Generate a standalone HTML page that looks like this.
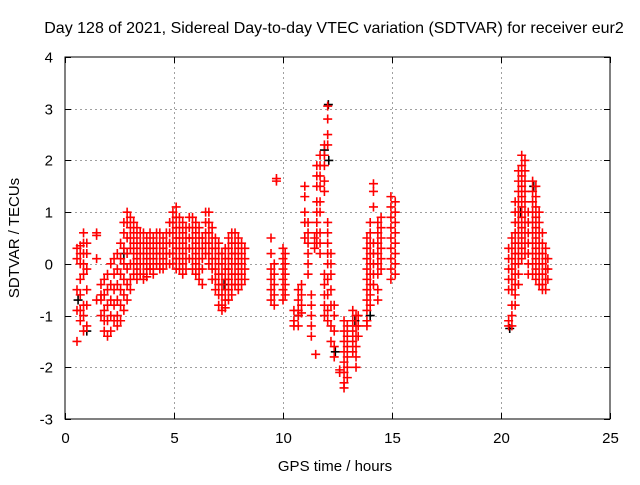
<!DOCTYPE html>
<html><head><meta charset="utf-8"><style>
body{margin:0;background:#fff;}
svg text{font-family:"Liberation Sans",sans-serif;font-size:15px;fill:#000;}
</style></head><body>
<svg id="chart" width="640" height="480" viewBox="0 0 640 480" xmlns="http://www.w3.org/2000/svg">
<rect width="640" height="480" fill="#fff"/>
<text x="334" y="33" text-anchor="middle" style="font-size:16px">Day 128 of 2021, Sidereal Day-to-day VTEC variation (SDTVAR) for receiver eur2</text>
<g id="grid"></g>
<g id="ticks"></g>
<g id="black-series"></g>
<g id="red-series"></g>
<rect x="65" y="57" width="545" height="362" fill="none" stroke="#000" stroke-width="1"/>
<text x="335" y="471" text-anchor="middle">GPS time / hours</text>
<text x="0" y="0" text-anchor="middle" transform="translate(19,238) rotate(-90)">SDTVAR / TECUs</text>
</svg>
<script>
const xTicks=[0,5,10,15,20,25];
const yTicks=[-3,-2,-1,0,1,2,3,4];
const hours=[0.55,0.7,0.85,1.0,1.45,1.65,1.8,1.95,2.1,2.25,2.4,2.55,2.7,2.85,3.0,3.15,3.3,3.45,3.6,3.75,3.9,4.05,4.2,4.35,4.5,4.65,4.8,4.95,5.1,5.25,5.4,5.55,5.7,5.85,6.0,6.15,6.3,6.45,6.6,6.75,6.9,7.05,7.2,7.35,7.5,7.65,7.8,7.95,8.1,8.25,9.45,9.6,9.7,10.0,10.1,10.5,10.7,10.85,11.0,11.15,11.3,11.45,11.5,11.55,11.7,11.9,12.05,12.2,12.35,12.6,12.8,12.95,13.2,13.35,13.45,13.85,14.0,14.15,14.35,14.5,14.95,15.15,20.35,20.5,20.65,20.8,20.95,21.1,21.25,21.45,21.6,21.75,21.9,22.05,22.15];
const values=[
[0.3,0.1,-0.5,-0.9,-1.5],[0.35,0.2,0.0,-0.3,-0.6,-0.9,-1.1],[0.6,0.4,0.2,0.0,-0.2,-0.8,-1.0,-1.3],[0.4,0.2,-0.1,-0.5,-0.8,-1.2],
[0.6,0.55,0.1,-0.7],[-0.6,-0.7,-0.4,-1.0],[-0.3,-0.6,-0.9,-1.1,-1.3],[-0.2,-0.5,-0.8,-1.1,-1.4],[0.0,-0.4,-0.7,-1.0,-1.3],
[0.1,-0.2,-0.5,-0.8,-1.1],[0.2,-0.1,-0.4,-0.7,-1.0,-1.2],[0.4,0.1,-0.2,-0.5,-0.8,-1.1],[0.8,0.6,0.3,0.0,-0.3,-0.6,-0.9],
[1.0,0.8,0.5,0.2,-0.1,-0.4,-0.7],[0.9,0.7,0.5,0.3,0.0,-0.3,-0.5],[0.8,0.6,0.4,0.2,0.0,-0.2],[0.7,0.5,0.3,0.1,-0.1,-0.3],
[0.6,0.4,0.2,0.0,-0.2],[0.6,0.4,0.2,0.0,-0.2,-0.3],[0.5,0.3,0.1,-0.1,-0.25],[0.6,0.4,0.2,0.0,-0.1],[0.5,0.3,0.1,-0.1,-0.2],
[0.6,0.4,0.2,0.0],[0.6,0.4,0.2,0.0,-0.1],[0.5,0.3,0.1,-0.1],[0.6,0.4,0.2,0.0],[0.8,0.6,0.4,0.2,0.0],[1.0,0.8,0.6,0.4,0.2,0.0],
[1.1,0.9,0.7,0.5,0.3,0.1,-0.1],[0.9,0.7,0.5,0.3,0.1,-0.1],[0.8,0.6,0.4,0.2,0.0,-0.2],[0.7,0.5,0.3,0.1,-0.1],[0.9,0.7,0.5,0.3,0.1],
[0.9,0.7,0.5,0.3,0.1,-0.1],[0.8,0.6,0.4,0.2,0.0,-0.2],[0.7,0.5,0.3,0.1,-0.1,-0.3],[0.5,0.3,0.1,-0.1,-0.4],[1.0,0.8,0.6,0.4,0.2],
[1.0,0.8,0.6,0.4,0.2,0.0],[0.7,0.5,0.3,0.1,-0.1,-0.3],[0.5,0.3,0.1,-0.1,-0.3,-0.5],[0.4,0.2,0.0,-0.2,-0.4,-0.6,-0.8],
[0.2,0.0,-0.2,-0.4,-0.6,-0.8,-0.9],[0.3,0.1,-0.1,-0.3,-0.5,-0.7,-0.85],[0.5,0.3,0.1,-0.1,-0.3,-0.5,-0.7],[0.6,0.4,0.2,0.0,-0.2,-0.4,-0.6],
[0.6,0.4,0.2,0.0,-0.2,-0.4],[0.5,0.3,0.1,-0.1,-0.3,-0.5],[0.4,0.2,0.0,-0.2,-0.4],[0.3,0.1,-0.1,-0.3],
[0.5,0.2,-0.1,-0.3,-0.5,-0.7],[0.0,-0.2,-0.4,-0.6,-0.8],[1.65,1.6],[0.3,0.1,-0.1,-0.3,-0.5,-0.7],[0.2,0.0,-0.2,-0.4,-0.6],
[-0.9,-1.1,-1.2],[-0.5,-0.7,-0.9,-1.0,-1.2],[-0.4,-0.6,-0.8,-0.95],[1.5,1.3,1.0,0.8,0.5],[0.8,0.6,0.4,0.2,0.0,-0.2],
[-0.6,-0.8,-1.0,-1.2,-1.4],[0.5,0.3],[-1.75],[1.9,1.7,1.5,1.2,1.0,0.8,0.6,0.4],[2.1,1.9,1.7,1.5,1.2,1.0,0.6,0.4,0.2],
[2.3,2.1,1.9,1.6,1.4,-0.2,-0.4,-0.6,-0.8,-1.0],[3.05,2.8,2.5,2.3,0.8,0.6,0.4,0.2,0.0,-0.3,-0.6,-0.9,-1.1],
[0.2,0.0,-0.2,-0.5,-0.8,-1.2,-1.5],[-0.8,-1.0,-1.3,-1.6,-1.8],[-2.05,-2.1],[-1.1,-1.3,-1.5,-1.7,-1.9,-2.1,-2.3,-2.4],
[-1.2,-1.4,-1.6,-1.8,-2.0,-2.2],[-0.9,-1.1,-1.3,-1.5,-1.7],[-1.0,-1.2,-1.4,-1.6,-1.8,-2.0],[-1.0,-1.2,-1.4],
[0.5,0.3,0.1,-0.1,-0.3,-0.5,-0.7,-0.9,-1.1,-1.2],[0.8,0.6,0.4,0.2,0.0,-0.2,-0.4,-0.6,-0.8],[1.55,1.4,1.1,0.4,0.2,0.0,-0.2,-0.4],
[0.8,0.6,0.4,0.2,0.0,-0.2,-0.5,-0.7],[0.9,0.7,0.5,0.3,0.1,-0.1],[1.3,1.1,0.9,0.7,0.5,0.3,0.1,-0.1,-0.3],[1.2,1.0,0.8,0.6,0.4,0.2,0.0,-0.2],
[0.3,0.1,-0.1,-0.3,-0.5,-1.1,-1.2],[0.5,0.3,0.1,-0.1,-0.3,-0.5,-0.8,-1.0,-1.2],[1.2,1.0,0.8,0.6,0.4,0.2,0.0,-0.2,-0.4,-0.6,-0.8],
[1.8,1.6,1.4,1.2,1.0,0.8,0.6,0.4,0.2,0.0,-0.2,-0.4],[2.1,1.9,1.7,1.5,1.3,1.1,0.9,0.7,0.5,0.3,0.1],[2.0,1.8,1.6,1.4,1.2,1.0,0.8,0.6,0.4,0.2],
[1.0,0.8,0.6,0.4,0.2,0.0,-0.2],[1.6,1.4,1.2,1.0,0.8,0.6,0.4,0.2,0.0,-0.2],[1.5,1.3,1.1,0.9,0.7,0.5,0.3,0.1,-0.1,-0.3],
[1.0,0.8,0.6,0.4,0.2,0.0,-0.2,-0.4],[0.6,0.4,0.2,0.0,-0.2,-0.4,-0.5],[0.3,0.1,-0.1,-0.3,-0.5],[0.1,-0.1,-0.3]];
const blackHours=[0.6,1.0,2.7,7.3,10.7,11.9,12.08,12.1,12.4,13.3,14.0,20.4,20.9,21.5];
const blackValues=[-0.7,-1.3,0.2,-0.4,-1.0,2.2,3.08,2.0,-1.7,-1.1,-1.0,-1.25,1.0,1.5];

const NS="http://www.w3.org/2000/svg";
const X0=65,X1=610,Y0=419,Y1=57;
function xs(h){return X0+(h-0)/(25-0)*(X1-X0);}
function ys(v){return Y0-(v-(-3))/(4-(-3))*(Y0-Y1);}
const grid=document.getElementById('grid'),ticks=document.getElementById('ticks'),svg=document.getElementById('chart');
function line(p,x1,y1,x2,y2,st,dash){const l=document.createElementNS(NS,'line');l.setAttribute('x1',x1);l.setAttribute('y1',y1);l.setAttribute('x2',x2);l.setAttribute('y2',y2);l.setAttribute('stroke',st);if(dash)l.setAttribute('stroke-dasharray',dash);p.appendChild(l);return l;}
xTicks.forEach(t=>{const x=Math.round(xs(t))+0.5;
 if(t>0&&t<25){const g=line(grid,x,Y1,x,Y0,'#a0a0a0','2,3');
 
 }
 line(ticks,x,Y0,x,Y0-6,'#000');line(ticks,x,Y1,x,Y1+6,'#000');
 const tx=document.createElementNS(NS,'text');tx.setAttribute('x',x);tx.setAttribute('y',443);tx.setAttribute('text-anchor','middle');tx.textContent=t;
 
 
 svg.appendChild(tx);});
yTicks.forEach(t=>{const y=Math.round(ys(t))+0.5;
 if(t>-3&&t<4){const g=line(grid,X0,y,X1,y,'#a0a0a0','2,3');
 
 }
 line(ticks,X0,y,X0+6,y,'#000');line(ticks,X1,y,X1-6,y,'#000');
 const tx=document.createElementNS(NS,'text');tx.setAttribute('x',53);tx.setAttribute('y',y+5);tx.setAttribute('text-anchor','end');tx.textContent=t;
 
 
 svg.appendChild(tx);});
function plus(g,h,v,col,name){const x=xs(h),y=ys(v);const p=document.createElementNS(NS,'path');
 p.setAttribute('d',`M${x-4.5},${y}H${x+4.5}M${x},${y-4.5}V${y+4.5}`);p.setAttribute('stroke',col);p.setAttribute('stroke-width','1.6');p.setAttribute('fill','none');
 
 
 g.appendChild(p);}
const bg=document.getElementById('black-series');
blackHours.forEach((h,i)=>plus(bg,h,blackValues[i],'#000','black-point'));
const rg=document.getElementById('red-series');
hours.forEach((h,i)=>values[i].forEach(v=>plus(rg,h,v,'#f00','red-point')));
</script>
</body></html>
